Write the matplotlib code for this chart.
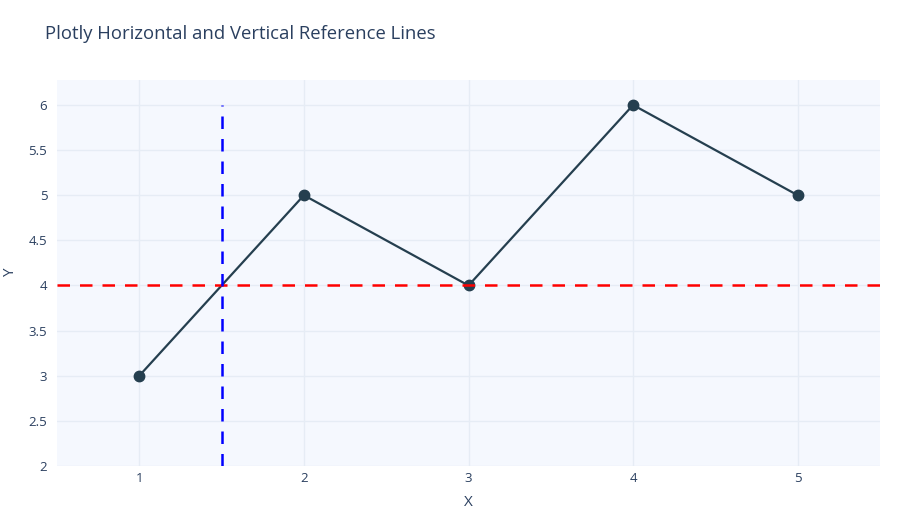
import matplotlib.pyplot as plt

x = [1, 2, 3, 4, 5]
y = [3, 5, 4, 6, 5]
h_ref = 4
v_ref = 1.5
v_top = 6
y_ticks = [2, 2.5, 3, 3.5, 4, 4.5, 5, 5.5, 6]
y_labels = ['2', '2.5', '3', '3.5', '4', '4.5', '5', '5.5', '6']

plt.rcParams['font.family'] = ['Open Sans', 'DejaVu Sans']
txt = '#2a3f5f'

fig = plt.figure(figsize=(9, 5.2), dpi=100)
ax = fig.add_axes([57/900, 1-466/520, 823/900, 386/520])
ax.set_facecolor('#f5f8fe')

ax.set_xlim(0.5, 5.5)
ax.set_ylim(2, 6.277)
ax.set_xticks(x)
ax.set_yticks(y_ticks)
ax.set_yticklabels(y_labels)
ax.grid(True, color='#e6ecf5', linewidth=1)
ax.set_axisbelow(True)
for s in ax.spines.values():
    s.set_visible(False)
ax.tick_params(length=0, labelsize=9.5, colors=txt)
ax.tick_params(axis='x', pad=4)
ax.tick_params(axis='y', pad=7)

ax.plot(x, y, color='#253f4f', linewidth=1.6, marker='o', markersize=7.5, zorder=3)

ax.axhline(h_ref, color='#ff0000', linewidth=1.8, dashes=(5, 4), zorder=4)
ax.plot([v_ref, v_ref], [2, v_top], color='#0000ff', linewidth=1.8, dashes=(5, 4), zorder=4)

fig.text(468/900, 1-502/520, 'X', fontsize=11, color=txt, ha='center', va='center')
fig.text(11/900, 1-273/520, 'Y', fontsize=11, color=txt, ha='center', va='center',
         rotation=90)
fig.text(45/900, 1-34/520, 'Plotly Horizontal and Vertical Reference Lines',
         fontsize=13.3, color=txt, va='center', ha='left')

fig.savefig('out.png', dpi=100, facecolor='white')
